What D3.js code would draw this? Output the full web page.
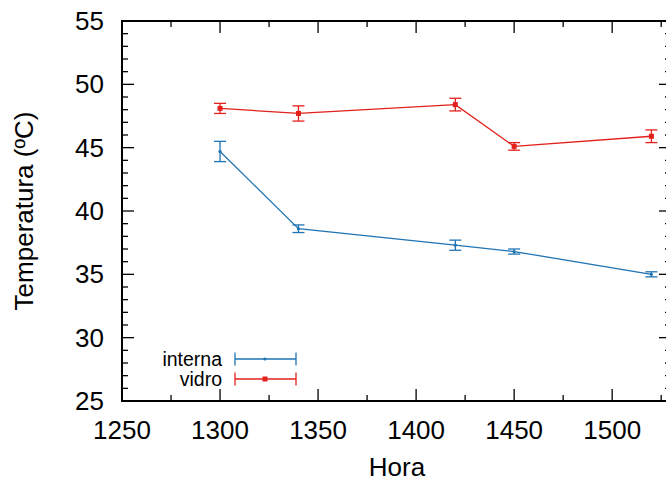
<!DOCTYPE html>
<html>
<head>
<meta charset="utf-8">
<script src="https://cdn.jsdelivr.net/npm/d3@7"></script>
<style>
  html, body { margin: 0; padding: 0; background: #fff; }
  svg { display: block; font-family: "Liberation Sans", Arial, sans-serif; }
</style>
</head>
<body>
<svg id="chart" width="666" height="481"></svg>
<script>
// Hour of measurement (x axis)
const hours = [1300, 1340, 1420, 1450, 1520];
// Mean temperature and its deviation for each measuring spot
const internaMean = [44.7, 38.6, 37.3, 36.8, 35.0];
const internaErr  = [0.8, 0.3, 0.4, 0.2, 0.2];
const vidroMean   = [48.1, 47.7, 48.4, 45.1, 45.9];
const vidroErr    = [0.4, 0.6, 0.5, 0.3, 0.5];
const seriesNames = ["interna", "vidro"];
const xTicks = [1250, 1300, 1350, 1400, 1450, 1500];
const yTicks = [25, 30, 35, 40, 45, 50, 55];

const colors = { interna: "#1f74b4", vidro: "#e3201b" };

const svg = d3.select("#chart");
const plotL = 122, plotR = 671, plotT = 21, plotB = 401;

const x = d3.scaleLinear().domain([1250, 1530]).range([plotL, plotR]);
const y = d3.scaleLinear().domain([25, 55]).range([plotB, plotT]);

const fontSize = 26;
const majorLen = 12, minorLen = 6;

// Tick marks on all four sides, pointing into the plot
const ticks = svg.append("g").attr("stroke", "#000").attr("stroke-width", 1.3);
d3.range(25, 56, 1).forEach(v => {
  const len = v % 5 === 0 ? majorLen : minorLen;
  ticks.append("line").attr("x1", plotL).attr("x2", plotL + len).attr("y1", y(v)).attr("y2", y(v));
  ticks.append("line").attr("x1", plotR).attr("x2", plotR - len).attr("y1", y(v)).attr("y2", y(v));
});
d3.range(1250, 1531, 25).forEach(v => {
  const len = v % 50 === 0 ? majorLen : minorLen;
  ticks.append("line").attr("x1", x(v)).attr("x2", x(v)).attr("y1", plotB).attr("y2", plotB - len);
  ticks.append("line").attr("x1", x(v)).attr("x2", x(v)).attr("y1", plotT).attr("y2", plotT + len);
});

// Frame
svg.append("rect")
  .attr("x", plotL).attr("y", plotT)
  .attr("width", plotR - plotL).attr("height", plotB - plotT)
  .attr("fill", "none").attr("stroke", "#000").attr("stroke-width", 2);

// Tick labels
svg.append("g").selectAll("text").data(yTicks).join("text")
  .attr("x", plotL - 18).attr("y", d => y(d))
  .attr("dy", "0.35em").attr("text-anchor", "end")
  .attr("font-size", fontSize).attr("fill", "#000")
  .text(d => d);

svg.append("g").selectAll("text").data(xTicks).join("text")
  .attr("x", d => x(d)).attr("y", 439)
  .attr("text-anchor", "middle")
  .attr("font-size", fontSize).attr("fill", "#000")
  .text(d => d);

// Axis titles
svg.append("text")
  .attr("x", 397).attr("y", 476)
  .attr("text-anchor", "middle").attr("font-size", fontSize)
  .text("Hora");

svg.append("text")
  .attr("transform", `translate(33, ${(plotT + plotB) / 2}) rotate(-90)`)
  .attr("text-anchor", "middle").attr("font-size", fontSize)
  .text("Temperatura (ºC)");

// Series with error bars
const capHalf = 6;
function drawSeries(name, means, errs, marker) {
  const col = colors[name];
  const g = svg.append("g");
  const data = hours.map((h, i) => ({ h, m: means[i], e: errs[i] }));
  const line = d3.line().x(d => x(d.h)).y(d => y(d.m));
  g.append("path").datum(data).attr("d", line)
    .attr("fill", "none").attr("stroke", col).attr("stroke-width", 1.3);
  const eb = g.selectAll("g.eb").data(data).join("g").attr("stroke", col).attr("stroke-width", 1.3);
  eb.append("line").attr("x1", d => x(d.h)).attr("x2", d => x(d.h))
    .attr("y1", d => y(d.m - d.e)).attr("y2", d => y(d.m + d.e));
  eb.append("line").attr("x1", d => x(d.h) - capHalf).attr("x2", d => x(d.h) + capHalf)
    .attr("y1", d => y(d.m - d.e)).attr("y2", d => y(d.m - d.e));
  eb.append("line").attr("x1", d => x(d.h) - capHalf).attr("x2", d => x(d.h) + capHalf)
    .attr("y1", d => y(d.m + d.e)).attr("y2", d => y(d.m + d.e));
  data.forEach(d => marker(g, x(d.h), y(d.m), col));
}

const dotMarker = (g, cx, cy, col) =>
  g.append("circle").attr("cx", cx).attr("cy", cy).attr("r", 1.6).attr("fill", col);
const squareMarker = (g, cx, cy, col) =>
  g.append("rect").attr("x", cx - 2.5).attr("y", cy - 2.5).attr("width", 5).attr("height", 5).attr("fill", col);

drawSeries("interna", internaMean, internaErr, dotMarker);
drawSeries("vidro", vidroMean, vidroErr, squareMarker);

// Legend
const legendRows = [
  { name: seriesNames[0], y: 359, marker: dotMarker },
  { name: seriesNames[1], y: 379, marker: squareMarker }
];
const lx1 = 235, lx2 = 296, lxm = 265;
legendRows.forEach(r => {
  const col = colors[r.name];
  svg.append("text").attr("x", 222).attr("y", r.y).attr("dy", "0.35em")
    .attr("text-anchor", "end").attr("font-size", 19.5).text(r.name);
  const g = svg.append("g").attr("stroke", col).attr("stroke-width", 1.3);
  g.append("line").attr("x1", lx1).attr("x2", lx2).attr("y1", r.y).attr("y2", r.y);
  g.append("line").attr("x1", lx1).attr("x2", lx1).attr("y1", r.y - 6.5).attr("y2", r.y + 6.5);
  g.append("line").attr("x1", lx2).attr("x2", lx2).attr("y1", r.y - 6.5).attr("y2", r.y + 6.5);
  r.marker(svg, lxm, r.y, col);
});
</script>
</body>
</html>
